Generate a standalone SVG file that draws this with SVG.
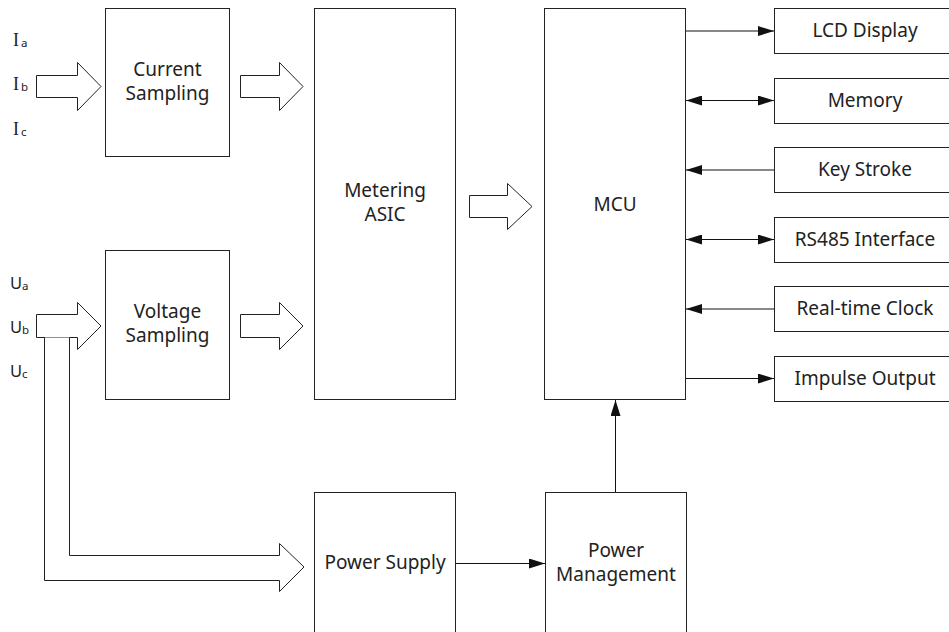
<svg xmlns="http://www.w3.org/2000/svg" width="949" height="632" viewBox="0 0 949 632">
  <defs>
    <style>
      .box { fill: #ffffff; stroke: #222222; stroke-width: 1; }
      .barrow { fill: #ffffff; stroke: #222222; stroke-width: 1; stroke-linejoin: miter; }
      .wire { fill: none; stroke: #111111; stroke-width: 1; }
      .lbl { font-family: "Noto Sans", "Open Sans", sans-serif; font-size: 19px; fill: #222222; text-anchor: middle; }
      .sig { font-family: "Noto Sans", sans-serif; font-size: 16.5px; fill: #222222; }
      .sigI { font-family: "Liberation Serif", serif; font-size: 18px; fill: #222222; }
      .sub { font-family: "Noto Sans", sans-serif; font-size: 11.5px; fill: #222222; }
    </style>
    <marker id="ah" viewBox="0 0 16 10" refX="16" refY="5" markerWidth="16" markerHeight="10" markerUnits="userSpaceOnUse" orient="auto-start-reverse">
      <path d="M0,0 L16,5 L0,10 Z" fill="#111111"/>
    </marker>
  </defs>
  <rect width="949" height="632" fill="#ffffff"/>

  <!-- input signal labels -->
  <g id="current-inputs">
    <text x="13" y="46" class="sigI">I</text><text x="21" y="47" class="sub">a</text>
    <text x="13" y="90" class="sigI">I</text><text x="21" y="91" class="sub">b</text>
    <text x="13" y="135" class="sigI">I</text><text x="21" y="136" class="sub">c</text>
  </g>
  <g id="voltage-inputs">
    <text x="10" y="289" class="sig">U</text><text x="22" y="290" class="sub">a</text>
    <text x="10" y="333" class="sig">U</text><text x="22" y="334" class="sub">b</text>
    <text x="10" y="377" class="sig">U</text><text x="22" y="378" class="sub">c</text>
  </g>

  <!-- blocks -->
  <g id="current-sampling">
    <rect class="box" x="105.5" y="8.5" width="124" height="148"/>
    <text class="lbl" x="167.5" y="76">Current</text>
    <text class="lbl" x="167.5" y="100">Sampling</text>
  </g>
  <g id="voltage-sampling">
    <rect class="box" x="105.5" y="250.5" width="124" height="149"/>
    <text class="lbl" x="167.5" y="318">Voltage</text>
    <text class="lbl" x="167.5" y="342">Sampling</text>
  </g>
  <g id="metering-asic">
    <rect class="box" x="314.5" y="8.5" width="141" height="391"/>
    <text class="lbl" x="385" y="197">Metering</text>
    <text class="lbl" x="385" y="221">ASIC</text>
  </g>
  <g id="mcu">
    <rect class="box" x="544.5" y="8.5" width="141" height="391"/>
    <text class="lbl" x="615" y="211">MCU</text>
  </g>
  <g id="power-supply">
    <rect class="box" x="314.5" y="492.5" width="141" height="150"/>
    <text class="lbl" x="385" y="569">Power Supply</text>
  </g>
  <g id="power-management">
    <rect class="box" x="545.5" y="492.5" width="141" height="150"/>
    <text class="lbl" x="616" y="557">Power</text>
    <text class="lbl" x="616" y="581">Management</text>
  </g>
  <g id="lcd-display">
    <rect class="box" x="774.5" y="8.5" width="182" height="45"/>
    <text class="lbl" x="865" y="37">LCD Display</text>
  </g>
  <g id="memory">
    <rect class="box" x="774.5" y="78.5" width="182" height="45"/>
    <text class="lbl" x="865" y="107">Memory</text>
  </g>
  <g id="key-stroke">
    <rect class="box" x="774.5" y="147.5" width="182" height="45"/>
    <text class="lbl" x="865" y="176">Key Stroke</text>
  </g>
  <g id="rs485">
    <rect class="box" x="774.5" y="217.5" width="182" height="45"/>
    <text class="lbl" x="865" y="246">RS485 Interface</text>
  </g>
  <g id="rtc">
    <rect class="box" x="774.5" y="286.5" width="182" height="45"/>
    <text class="lbl" x="865" y="315">Real-time Clock</text>
  </g>
  <g id="impulse-output">
    <rect class="box" x="774.5" y="356.5" width="182" height="45"/>
    <text class="lbl" x="865" y="385">Impulse Output</text>
  </g>

  <!-- connectors -->
  <g id="connectors">
    <!-- hollow bus arrows -->
    <path class="barrow" d="M36.5,75.5 H77.5 V62.5 L101,86.5 L77.5,110.5 V97.5 H36.5 Z"/>
    <path class="barrow" d="M240.5,75.5 H279.5 V62.5 L303,86.5 L279.5,110.5 V97.5 H240.5 Z"/>
    <path class="barrow" d="M36.5,314.5 H77.5 V302.5 L101,326 L77.5,349.5 V337.5 H36.5 Z"/>
    <path class="barrow" d="M240.5,314.5 H279.5 V302.5 L303,326 L279.5,349.5 V337.5 H240.5 Z"/>
    <path class="barrow" d="M469.5,195.5 H507.5 V183.5 L532,206.5 L507.5,229.5 V217.5 H469.5 Z"/>
    <!-- branch feeding the power supply -->
    <path class="barrow" d="M44.5,337.5 V580.5 H279.5 V591.5 L304,567 L279.5,543.5 V555.5 H69.5 V337.5"/>

    <!-- MCU peripherals -->
    <line class="wire" x1="686" y1="31" x2="774" y2="31" marker-end="url(#ah)"/>
    <line class="wire" x1="686" y1="100.5" x2="774" y2="100.5" marker-start="url(#ah)" marker-end="url(#ah)"/>
    <line class="wire" x1="774" y1="170" x2="686" y2="170" marker-end="url(#ah)"/>
    <line class="wire" x1="686" y1="239.5" x2="774" y2="239.5" marker-start="url(#ah)" marker-end="url(#ah)"/>
    <line class="wire" x1="774" y1="309" x2="686" y2="309" marker-end="url(#ah)"/>
    <line class="wire" x1="686" y1="378.5" x2="774" y2="378.5" marker-end="url(#ah)"/>

    <!-- power path -->
    <line class="wire" x1="456" y1="563.5" x2="545" y2="563.5" marker-end="url(#ah)"/>
    <line class="wire" x1="615.5" y1="492" x2="615.5" y2="400" marker-end="url(#ah)"/>
  </g>
</svg>
